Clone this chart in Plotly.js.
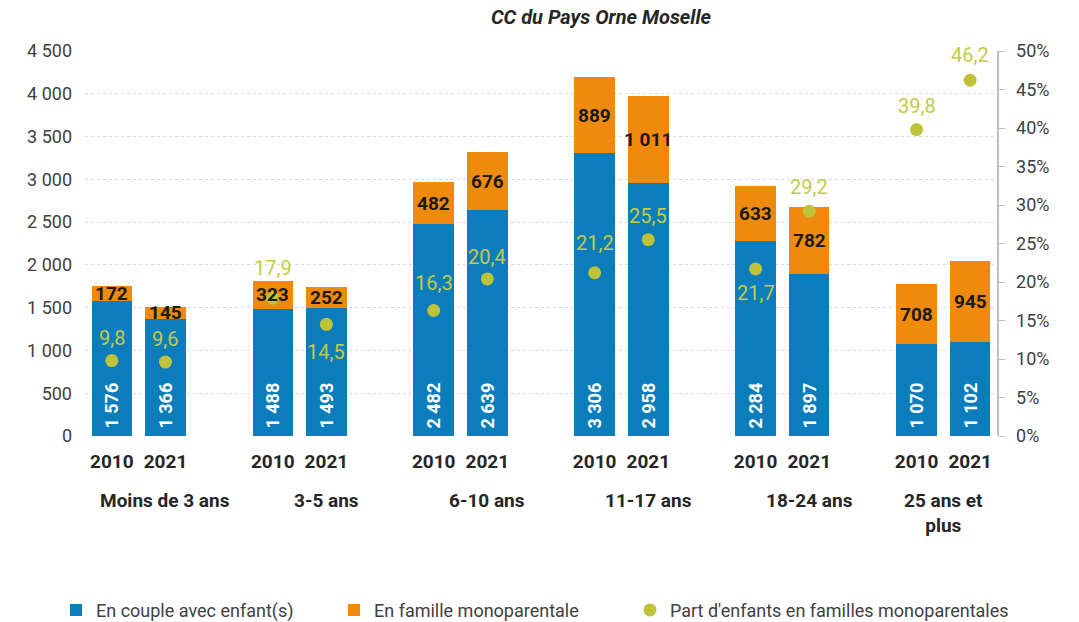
<!DOCTYPE html>
<html>
<head>
<meta charset="utf-8">
<script src="https://cdn.plot.ly/plotly-3.0.1.min.js"></script>
<style>
  body { margin: 0; background: #ffffff; }
  #chart { width: 1079px; height: 622px; }
</style>
</head>
<body>
<div id="chart"></div>
<script>
var groups = ["Moins de 3 ans", "3-5 ans", "6-10 ans", "11-17 ans", "18-24 ans", "25 ans et<br>plus"];
var years = ["2010", "2021"];
var couple = [1576, 1366, 1488, 1493, 2482, 2639, 3306, 2958, 2284, 1897, 1070, 1102];
var mono = [172, 145, 323, 252, 482, 676, 889, 1011, 633, 782, 708, 945];
var partMono = [9.8, 9.6, 17.9, 14.5, 16.3, 20.4, 21.2, 25.5, 21.7, 29.2, 39.8, 46.2];
// pixel offset of each % label from its dot (negative = below)
var partLabelShift = [23, 23, 30, -28, 27, 22, 30, 24, -24, 24, 24, 25];

// one slot per bar, plus an empty slot after each group except the last (Excel layout)
var cats = [], catYear = [], groupSpan = [];
for (var g = 0; g < groups.length; g++) {
  var start = cats.length;
  for (var k = 0; k < years.length; k++) {
    cats.push(groups[g] + " " + years[k]);
    catYear.push(years[k]);
  }
  if (g < groups.length - 1) cats.push("sep" + g);
  groupSpan.push((start + cats.length - 1) / 2);
}
var barCats = cats.filter(function (c) { return c.indexOf("sep") !== 0; });

var font = "Roboto, 'Open Sans', sans-serif";

var trace1 = {
  x: barCats,
  y: couple,
  name: "En couple avec enfant(s)",
  type: "bar",
  marker: { color: "#0B7DBA" },
  texttemplate: "\u00a0%{y:,d}",
  textposition: "inside",
  insidetextanchor: "start",
  textangle: -90,
  constraintext: "none",
  insidetextfont: { family: font, size: 18, color: "#FFFFFF", weight: "bold" },
  hoverinfo: "skip",
  legend: "legend",
};

var trace2 = {
  x: barCats,
  y: mono,
  name: "En famille monoparentale",
  type: "bar",
  marker: { color: "#EF8A0C" },
  hoverinfo: "skip",
  legend: "legend2",
};

var trace3 = {
  x: barCats,
  y: partMono,
  name: "Part d'enfants en familles monoparentales",
  type: "scatter",
  mode: "markers",
  yaxis: "y2",
  marker: { color: "#BFC33A", size: 13 },
  cliponaxis: false,
  hoverinfo: "skip",
  legend: "legend3",
};

var data = [trace1, trace2, trace3];

var annotations = [];
// orange segment values, centred in the segment (drawn above the dots like in Excel)
var fmt = d3Format();
for (var i = 0; i < mono.length; i++) {
  annotations.push({
    xref: "x",
    yref: "y",
    x: barCats[i],
    y: couple[i] + mono[i] / 2,
    text: fmt(mono[i]),
    showarrow: false,
    font: { family: font, size: 19, color: "#1A1A1A", weight: "bold" },
  });
}
for (var i = 0; i < partMono.length; i++) {
  annotations.push({
    xref: "x",
    yref: "y2",
    x: barCats[i],
    y: partMono[i],
    yshift: partLabelShift[i],
    text: partMono[i].toFixed(1).replace(".", ","),
    showarrow: false,
    font: { family: font, size: 20, color: "#C4CB45" },
  });
}
for (var g = 0; g < groups.length; g++) {
  annotations.push({
    xref: "x",
    yref: "paper",
    x: groupSpan[g],
    y: -0.132,
    yanchor: "top",
    text: groups[g],
    showarrow: false,
    font: { family: font, size: 19, color: "#262626", weight: "bold" },
  });
}

function d3Format() {
  // thousands with a space, as in the French source
  return function (v) {
    return String(v).replace(/\B(?=(\d{3})+(?!\d))/g, " ");
  };
}

var legendFont = { family: font, size: 18, color: "#404040" };
function legendAt(px) {
  return {
    orientation: "h",
    xref: "container",
    x: px / 1079,
    xanchor: "left",
    yref: "container",
    y: 0.019,
    yanchor: "middle",
    itemwidth: 30,
    font: legendFont,
  };
}

var layout = {
  width: 1079,
  height: 622,
  separators: ", ",
  barmode: "stack",
  bargap: 0.245,
  font: { family: font, color: "#404040" },
  paper_bgcolor: "#FFFFFF",
  plot_bgcolor: "#FFFFFF",
  margin: { l: 85, r: 82, t: 51, b: 186 },
  title: {
    text: "CC du Pays Orne Moselle",
    font: { family: font, size: 20, color: "#262626", weight: "bold", style: "italic" },
    xref: "container",
    x: 0.557,
    xanchor: "center",
    yref: "container",
    y: 0.972,
    yanchor: "middle",
  },
  xaxis: {
    type: "category",
    categoryorder: "array",
    categoryarray: cats,
    range: [-0.5, cats.length - 0.5],
    tickmode: "array",
    tickvals: barCats,
    ticktext: catYear,
    showgrid: false,
    zeroline: false,
    showline: false,
    ticks: "",
    ticklabelstandoff: 12,
    tickfont: { family: font, size: 19, color: "#262626", weight: "bold" },
  },
  yaxis: {
    range: [0, 4500],
    dtick: 500,
    separatethousands: true,
    tickformat: ",d",
    showgrid: true,
    gridcolor: "#D9D9D9",
    griddash: "dot",
    gridwidth: 1,
    zeroline: false,
    showline: false,
    ticklabelstandoff: 12,
    tickfont: { family: font, size: 18, color: "#404040" },
  },
  yaxis2: {
    overlaying: "y",
    side: "right",
    range: [0, 50],
    dtick: 5,
    ticksuffix: "%",
    showgrid: false,
    zeroline: false,
    showline: true,
    linecolor: "#BFBFBF",
    linewidth: 1.5,
    ticks: "outside",
    ticklen: 6,
    tickcolor: "#BFBFBF",
    ticklabelstandoff: 8,
    tickfont: { family: font, size: 18, color: "#404040" },
  },
  annotations: annotations,
  showlegend: true,
  legend: legendAt(56),
  legend2: legendAt(334),
  legend3: legendAt(630),
};

var config = { displayModeBar: false, staticPlot: true };
Plotly.newPlot("chart", data, layout, config);
</script>
</body>
</html>
